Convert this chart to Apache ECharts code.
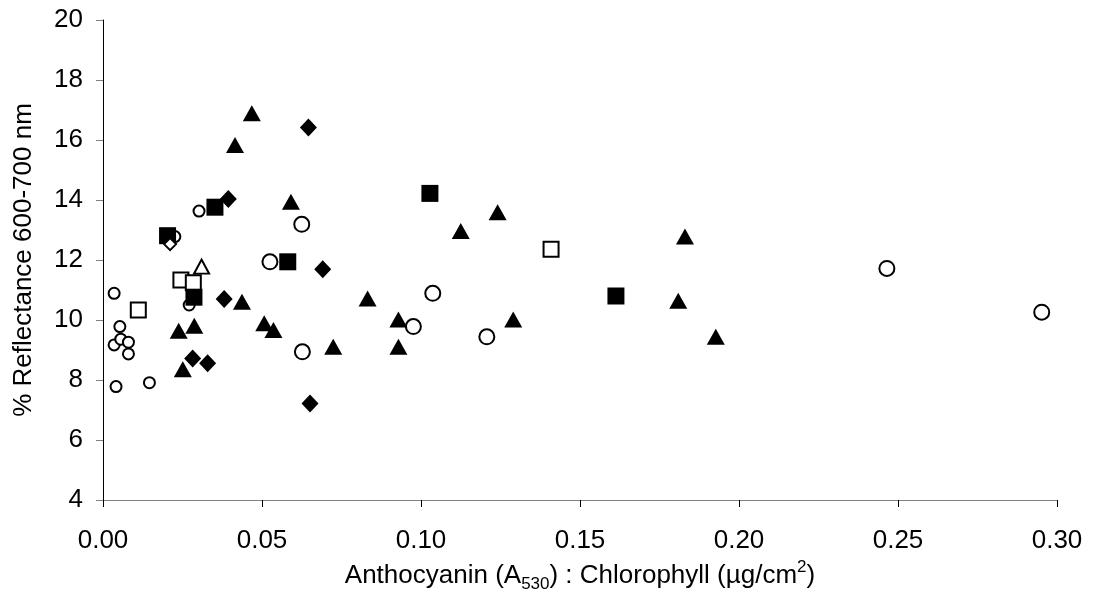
<!DOCTYPE html>
<html>
<head>
<meta charset="utf-8">
<script src="https://cdn.jsdelivr.net/npm/echarts@6/dist/echarts.min.js"></script>
<style>
html,body{margin:0;padding:0;background:#fff;}
#c{width:1093px;height:611px;}
</style>
</head>
<body>
<div id="c"></div>
<script>
// ---- data ----
const xTickLabels = ['0.00','0.05','0.10','0.15','0.20','0.25','0.30'];
const yTickLabels = ['4','6','8','10','12','14','16','18','20'];

const smallCircleX = [0.0035, 0.0053, 0.0035, 0.0056, 0.0080, 0.0080, 0.0041, 0.0146, 0.0302, 0.0226, 0.0271];
const smallCircleY = [10.89, 9.78, 9.17, 9.36, 9.26, 8.87, 7.78, 7.91, 13.63, 12.78, 10.50];

const circleX = [0.0625, 0.0525, 0.0627, 0.1037, 0.0976, 0.1207, 0.2465, 0.2952];
const circleY = [13.19, 11.94, 8.94, 10.89, 9.78, 9.44, 11.72, 10.26];

const openSquareX = [0.0245, 0.0284, 0.0111, 0.1409];
const openSquareY = [11.33, 11.24, 10.33, 12.36];

const triangleX = [0.0468, 0.0415, 0.0591, 0.0437, 0.0238, 0.0287, 0.0507, 0.0536, 0.0724, 0.0251,
                   0.1125, 0.1241, 0.0832, 0.0929, 0.1290, 0.0929, 0.1830, 0.1809, 0.1927];
const triangleY = [16.89, 15.83, 13.94, 10.61, 9.64, 9.81, 9.89, 9.67, 9.11, 8.36,
                   12.97, 13.59, 10.72, 10.02, 10.02, 9.11, 12.78, 10.64, 9.44];

const diamondX = [0.0646, 0.0394, 0.0691, 0.0381, 0.0282, 0.0329, 0.0651];
const diamondY = [16.42, 14.03, 11.69, 10.70, 8.72, 8.56, 7.22];

const squareX = [0.0352, 0.0203, 0.0581, 0.0286, 0.1028, 0.1613];
const squareY = [13.76, 12.81, 11.94, 10.76, 14.22, 10.80];

const openDiamondX = [0.0211];
const openDiamondY = [12.53];

const openTriangleX = [0.0310];
const openTriangleY = [11.78];

// ---- chart ----
function zip(xs, ys){ return xs.map((x,i)=>[x, ys[i]]); }
const FONT = '"Liberation Sans", Arial, sans-serif';

function series(xs, ys, symbol, size, open){
  return {
    type: 'scatter',
    data: zip(xs, ys),
    symbol: symbol,
    symbolSize: size,
    itemStyle: open
      ? {color:'#ffffff', borderColor:'#000000', borderWidth:2, opacity:1}
      : {color:'#000000', borderWidth:0, opacity:1},
    emphasis: {disabled:true}
  };
}

const chart = echarts.init(document.getElementById('c'), null, {renderer:'canvas'});
chart.setOption({
  animation: false,
  backgroundColor: '#ffffff',
  grid: {left:103, right:36, top:20, bottom:111, containLabel:false, outerBoundsMode:'none'},
  xAxis: {
    type: 'value', min: 0, max: 0.30, interval: 0.05,
    axisLine: {show:true, onZero:false, lineStyle:{color:'#808080', width:1}},
    axisTick: {show:true, inside:false, length:7, lineStyle:{color:'#000', width:1}},
    splitLine: {show:false},
    axisLabel: {
      fontFamily: FONT, fontSize: 26, color:'#000', margin: 28,
      formatter: (v)=> xTickLabels[Math.round(v/0.05)]
    },
    name: 'Anthocyanin (A{sub|530}) : Chlorophyll ({t|µ}g/cm{sup|2})',
    nameLocation: 'middle',
    nameGap: 57,
    nameTextStyle: {
      fontFamily: FONT, fontSize: 26, color:'#000', lineHeight: 34,
      rich: {
        sub: {fontFamily: FONT, fontSize: 17, color:'#000', verticalAlign:'bottom', lineHeight: 17},
        sup: {fontFamily: FONT, fontSize: 17, color:'#000', verticalAlign:'top', lineHeight: 17},
        t: {fontFamily: FONT, fontSize: 26, color:'#000', lineHeight: 34}
      }
    }
  },
  yAxis: {
    type: 'value', min: 4, max: 20, interval: 2,
    axisLine: {show:true, onZero:false, lineStyle:{color:'#000', width:1}},
    axisTick: {show:true, inside:false, length:7, lineStyle:{color:'#808080', width:1}},
    splitLine: {show:false},
    axisLabel: {
      fontFamily: FONT, fontSize: 26, color:'#000', margin: 20,
      formatter: (v)=> yTickLabels[Math.round((v-4)/2)]
    },
    name: '% Reflectance 600-700 nm',
    nameLocation: 'middle',
    nameGap: 66,
    nameRotate: 90,
    nameTextStyle: {fontFamily: FONT, fontSize: 26, color:'#000'}
  },
  series: [
    series(smallCircleX, smallCircleY, 'circle', 11, true),
    series(circleX, circleY, 'circle', 15, true),
    series(openSquareX, openSquareY, 'rect', 15, true),
    series(triangleX, triangleY, 'triangle', [18,16], false),
    series(diamondX, diamondY, 'diamond', [17,18], false),
    series(squareX, squareY, 'rect', 17, false),
    series(openDiamondX, openDiamondY, 'diamond', 12, true),
    series(openTriangleX, openTriangleY, 'triangle', [15,14], true)
  ]
});
</script>
</body>
</html>
